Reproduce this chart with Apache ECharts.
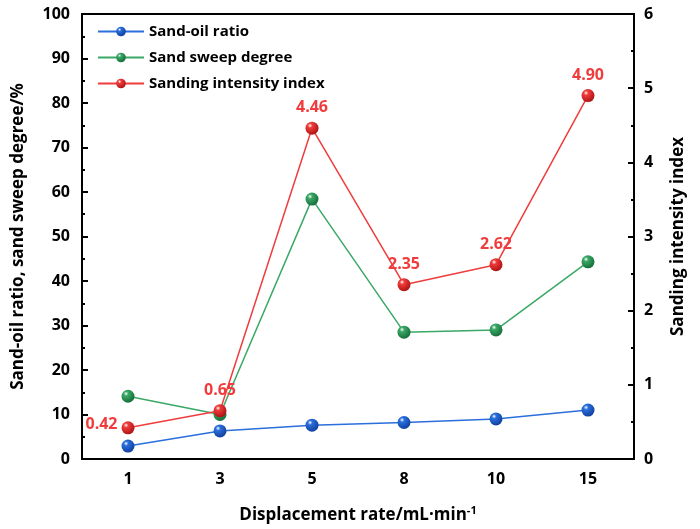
<!DOCTYPE html>
<html>
<head>
<meta charset="utf-8">
<script src="https://cdn.jsdelivr.net/npm/echarts@6/dist/echarts.min.js"></script>
<style>
  html, body { margin: 0; padding: 0; background: #fff; }
  #main { width: 700px; height: 529px; }
</style>
</head>
<body>
<div id="main"></div>
<script>
// data
const rates = ['1', '3', '5', '8', '10', '15'];
const sandOil = [2.9, 6.3, 7.6, 8.2, 9.0, 11.0];
const sweepDegree = [14.1, 10.0, 58.4, 28.5, 29.0, 44.3];
const sandingIndex = [0.42, 0.65, 4.46, 2.35, 2.62, 4.90];

const FONT = '"Open Sans", "Noto Sans", sans-serif';

// glossy ball marker
function ball(c, dark) {
  return new echarts.graphic.RadialGradient(0.35, 0.3, 0.7, [
    { offset: 0, color: '#ffffff' },
    { offset: 0.25, color: c },
    { offset: 1, color: dark }
  ]);
}

const chart = echarts.init(document.getElementById('main'));

const axisTxt = { color: '#000', fontWeight: 'bold', fontSize: 16, fontFamily: FONT };

// first label sits left of its point
const sandingData = sandingIndex.map((v, i) =>
  i === 0 ? { value: v, label: { position: 'left', distance: 4, offset: [0, -3] } } : v
);

chart.setOption({
  backgroundColor: '#fff',
  animation: false,
  grid: { left: 82, right: 66, top: 14, bottom: 69, show: true, borderColor: '#000', borderWidth: 2 },
  legend: {
    left: 92, top: 19, orient: 'vertical', itemGap: 11, itemWidth: 46, itemHeight: 12,
    textStyle: { color: '#000', fontWeight: 'bold', fontSize: 15, fontFamily: FONT },
    data: ['Sand-oil ratio', 'Sand sweep degree', 'Sanding intensity index']
  },
  xAxis: {
    type: 'category', data: rates, boundaryGap: true,
    axisLine: { lineStyle: { color: '#000', width: 2 } },
    axisTick: { alignWithLabel: true, length: 5, lineStyle: { color: '#000', width: 2 } },
    axisLabel: Object.assign({ margin: 12 }, axisTxt),
    name: '{a|Displacement rate/mL·min}{s|-1}',
    nameLocation: 'middle', nameGap: 46,
    nameTextStyle: {
      rich: {
        a: { color: '#000', fontWeight: 'bold', fontSize: 17, fontFamily: FONT },
        s: { color: '#000', fontWeight: 'bold', fontSize: 11, fontFamily: FONT, verticalAlign: 'top', padding: [0, 0, 10, 0] }
      }
    }
  },
  yAxis: [{
    type: 'value', min: 0, max: 100, interval: 10,
    name: 'Sand-oil ratio, sand sweep degree/%',
    nameLocation: 'middle', nameGap: 55,
    nameTextStyle: { color: '#000', fontWeight: 'bold', fontSize: 17, fontFamily: FONT },
    axisLine: { show: true, lineStyle: { color: '#000', width: 2 } },
    axisTick: { show: true, inside: true, length: 6, lineStyle: { color: '#000', width: 2 } },
    minorTick: { show: true, splitNumber: 2, length: 3, lineStyle: { color: '#000', width: 2 } },
    axisLabel: Object.assign({ margin: 12 }, axisTxt),
    splitLine: { show: false }
  }, {
    type: 'value', min: 0, max: 6, interval: 1,
    name: 'Sanding intensity index',
    nameLocation: 'middle', nameGap: 36, nameRotate: 90,
    nameTextStyle: { color: '#000', fontWeight: 'bold', fontSize: 17, fontFamily: FONT },
    axisLine: { show: true, lineStyle: { color: '#000', width: 2 } },
    axisTick: { show: true, inside: true, length: 6, lineStyle: { color: '#000', width: 2 } },
    minorTick: { show: true, splitNumber: 2, length: 3, lineStyle: { color: '#000', width: 2 } },
    axisLabel: Object.assign({ margin: 10 }, axisTxt),
    splitLine: { show: false }
  }],
  series: [{
    name: 'Sand-oil ratio', type: 'line', data: sandOil,
    symbol: 'circle', symbolSize: 13,
    lineStyle: { color: '#2a6fdc', width: 1.5 },
    itemStyle: { color: ball('#2a6fdc', '#1241a0') },
    z: 3
  }, {
    name: 'Sand sweep degree', type: 'line', data: sweepDegree,
    symbol: 'circle', symbolSize: 13,
    lineStyle: { color: '#3aa866', width: 1.5 },
    itemStyle: { color: ball('#3aa866', '#17703a') },
    z: 2
  }, {
    name: 'Sanding intensity index', type: 'line', data: sandingData, yAxisIndex: 1,
    symbol: 'circle', symbolSize: 13,
    lineStyle: { color: '#f03c3c', width: 1.5 },
    itemStyle: { color: ball('#f03c3c', '#b01515') },
    label: {
      show: true, position: 'top', distance: 6,
      color: '#f03c3c', fontWeight: 'bold', fontSize: 16, fontFamily: FONT,
      formatter: p => p.value.toFixed(2)
    },
    z: 4
  }]
});
</script>
</body>
</html>
